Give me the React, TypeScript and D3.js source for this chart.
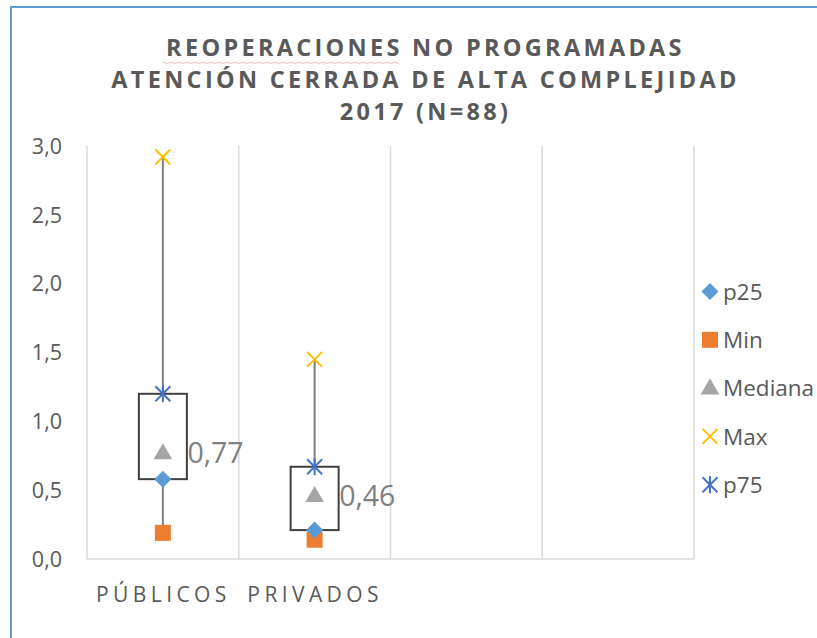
import React from "react";
import * as d3 from "d3";

// chart values
const categories = ["PÚBLICOS", "PRIVADOS", "c3", "c4"];
const catLabels = ["PÚBLICOS", "PRIVADOS", "", ""];
const p25 = [0.58, 0.21];
const minVals = [0.19, 0.14];
const mediana = [0.77, 0.46];
const maxVals = [2.92, 1.45];
const p75 = [1.2, 0.67];
const yTicks = [0, 0.5, 1, 1.5, 2, 2.5, 3];
const titleLines = [
  "REOPERACIONES NO PROGRAMADAS",
  "ATENCIÓN CERRADA DE ALTA COMPLEJIDAD",
  "2017 (N=88)",
];
const legendItems = ["p25", "Min", "Mediana", "Max", "p75"];

const W = 817;
const H = 638;
const plot = { left: 87, right: 694, top: 146, bottom: 559 };
const font = "'Open Sans', sans-serif";
const textColor = "#595959";

const colors: Record<string, string> = {
  p25: "#5B9BD5",
  Min: "#ED7D31",
  Mediana: "#A5A5A5",
  Max: "#FFC000",
  p75: "#4472C4",
};

const fmt = (v: number, d: number) => v.toFixed(d).replace(".", ",");

function Marker({ kind, x, y }: { kind: string; x: number; y: number }) {
  const c = colors[kind];
  if (kind === "p25") {
    const s = 8.5;
    return <path d={`M${x},${y - s}L${x + s},${y}L${x},${y + s}L${x - s},${y}Z`} fill={c} />;
  }
  if (kind === "Min") {
    return <rect x={x - 8} y={y - 8} width={16} height={16} fill={c} />;
  }
  if (kind === "Mediana") {
    const tri = d3.symbol().type(d3.symbolTriangle).size(150)();
    return <path d={tri ?? ""} transform={`translate(${x},${y + 1})`} fill={c} />;
  }
  const r = 7.5;
  return (
    <g stroke={c} strokeWidth={2} fill="none">
      <line x1={x - r} y1={y - r} x2={x + r} y2={y + r} />
      <line x1={x - r} y1={y + r} x2={x + r} y2={y - r} />
      {kind === "p75" && <line x1={x} y1={y - r - 1} x2={x} y2={y + r + 1} />}
    </g>
  );
}

export default function App() {
  const x = d3
    .scaleBand<string>()
    .domain(categories)
    .range([plot.left, plot.right]);
  const y = d3.scaleLinear().domain([0, 3]).range([plot.bottom, plot.top]);
  const boxW = 48;

  return (
    <svg
      width={W}
      height={H}
      style={{ position: "absolute", left: 0, top: 0, background: "#fff" }}
      fontFamily={font}
    >
      {/* chart frame */}
      <rect x={11} y={7} width={W + 20} height={H + 20} fill="#fff" stroke="#5B9BD5" strokeWidth={2} />

      {/* title */}
      {titleLines.map((t, i) => (
        <text
          key={i}
          x={425.5}
          y={56 + i * 32}
          textAnchor="middle"
          fontSize={23.5}
          fontWeight={700}
          letterSpacing={3.3}
          fill={textColor}
        >
          {t}
        </text>
      ))}
      <path
        d={d3.range(163, 400, 4).map((v, i) => `${i ? "L" : "M"}${v},${62 + (i % 2) * 1.5}`).join("")}
        stroke="#f4a7a7"
        strokeWidth={0.8}
        fill="none"
      />

      {/* vertical gridlines */}
      {categories.map((c) => (
        <line key={c} x1={x(c)!} x2={x(c)!} y1={plot.top} y2={plot.bottom} stroke="#d9d9d9" strokeWidth={1.5} />
      ))}
      <line x1={plot.right} x2={plot.right} y1={plot.top} y2={plot.bottom} stroke="#d9d9d9" strokeWidth={1.5} />
      <line x1={plot.left} x2={plot.right} y1={plot.bottom} y2={plot.bottom} stroke="#d9d9d9" strokeWidth={1.5} />

      {/* y tick labels */}
      {yTicks.map((t) => (
        <text key={t} x={62} y={y(t)} dy="0.36em" textAnchor="end" fontSize={21.5} fill={textColor}>
          {fmt(t, 1)}
        </text>
      ))}

      {/* x labels */}
      {catLabels.map((l, i) =>
        l ? (
          <text
            key={l}
            x={x(categories[i])! + x.bandwidth() / 2 + 0.5}
            y={602}
            textAnchor="middle"
            fontSize={21}
            letterSpacing={4.4}
            fill={textColor}
          >
            {l}
          </text>
        ) : null
      )}

      {/* boxes */}
      {p25.map((_, i) => {
        const cx = x(categories[i])! + x.bandwidth() / 2;
        return (
          <g key={i}>
            <line x1={cx} x2={cx} y1={y(maxVals[i])} y2={y(minVals[i])} stroke="#7f7f7f" strokeWidth={2} />
            <rect
              x={cx - boxW / 2}
              y={y(p75[i])}
              width={boxW}
              height={y(p25[i]) - y(p75[i])}
              fill="#fff"
              stroke="#404040"
              strokeWidth={2}
            />
            <Marker kind="Min" x={cx} y={y(minVals[i])} />
            <Marker kind="p25" x={cx} y={y(p25[i])} />
            <Marker kind="Mediana" x={cx} y={y(mediana[i])} />
            <Marker kind="Max" x={cx} y={y(maxVals[i])} />
            <Marker kind="p75" x={cx} y={y(p75[i])} />
            <text x={cx + boxW / 2 + 0.5} y={y(mediana[i])} dy="0.36em" fontSize={28.5} fill="#7f7f7f">
              {fmt(mediana[i], 2)}
            </text>
          </g>
        );
      })}

      {/* legend */}
      {legendItems.map((k, i) => {
        const ly = 291.5 + i * 48.3;
        return (
          <g key={k}>
            <Marker kind={k} x={710} y={ly} />
            <text x={723} y={ly} dy="0.36em" fontSize={22.5} fill={textColor}>
              {k}
            </text>
          </g>
        );
      })}
    </svg>
  );
}
